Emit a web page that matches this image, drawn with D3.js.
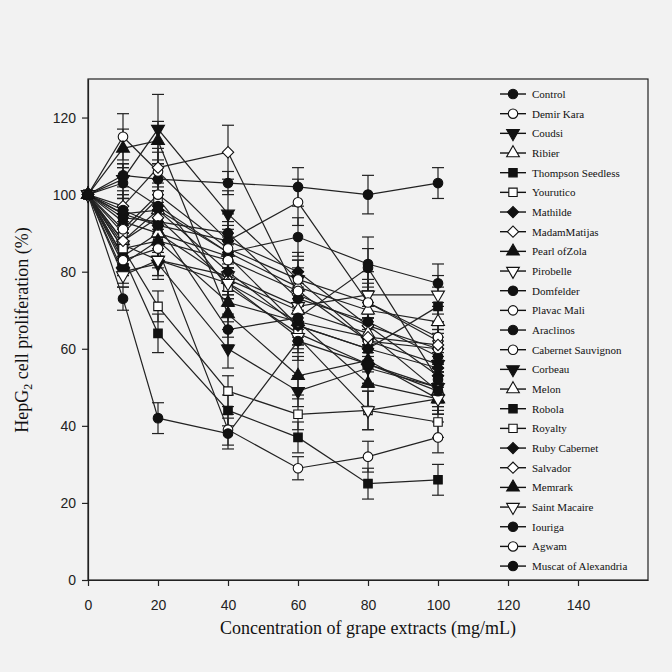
<!DOCTYPE html>
<html>
<head>
<meta charset="utf-8">
<script src="https://cdn.jsdelivr.net/npm/d3@7/dist/d3.min.js"></script>
<style>
  body { margin: 0; background: #f2f2f2; }
  svg { display: block; }
  .tick text { font-family: "Liberation Sans Narrow", "Liberation Sans", Arial, sans-serif; font-size: 14px; fill: #222; }
</style>
</head>
<body>
<div id="chart"></div>
<script>
// concentration (mg/mL)
const concentrations = [0, 10, 20, 40, 60, 80, 100];

const cultivars = [
  "Control", "Demir Kara", "Coudsi", "Ribier", "Thompson Seedless", "Yourutico",
  "Mathilde", "MadamMatijas", "Pearl ofZola", "Pirobelle", "Domfelder", "Plavac Mali",
  "Araclinos", "Cabernet Sauvignon", "Corbeau", "Melon", "Robola", "Royalty",
  "Ruby Cabernet", "Salvador", "Memrark", "Saint Macaire", "Iouriga", "Agwam",
  "Muscat of Alexandria"
];

// proliferation (%), one row per cultivar
const proliferation = [
  [100, 105, 104, 103, 102, 100, 103],
  [100, 115, 106, 88, 98, 72, 62],
  [100, 104, 117, 95, 78, 62, 56],
  [100, 88, 96, 85, 76, 70, 67],
  [100, 93, 90, 84, 66, 60, 71],
  [100, 90, 99, 76, 64, 56, 50],
  [100, 95, 92, 88, 80, 66, 53],
  [100, 97, 107, 111, 74, 66, 60],
  [100, 112, 114, 69, 53, 57, 47],
  [100, 87, 83, 79, 71, 74, 74],
  [100, 103, 97, 85, 89, 82, 77],
  [100, 91, 100, 86, 78, 72, 63],
  [100, 94, 93, 90, 73, 67, 58],
  [100, 86, 88, 83, 75, 62, 60],
  [100, 80, 82, 60, 49, 55, 50],
  [100, 84, 90, 78, 70, 64, 49],
  [100, 84, 64, 44, 37, 25, 26],
  [100, 86, 71, 49, 43, 44, 41],
  [100, 95, 96, 80, 66, 60, 55],
  [100, 88, 94, 77, 67, 63, 61],
  [100, 82, 88, 72, 67, 51, 47],
  [100, 79, 83, 77, 63, 44, 47],
  [100, 96, 92, 65, 68, 81, 52],
  [100, 83, 86, 39, 29, 32, 37],
  [100, 73, 42, 38, 62, 56, 49]
];

// standard deviations
const errors = [
  [0, 3, 4, 3, 5, 5, 4],
  [0, 6, 5, 5, 6, 6, 5],
  [0, 4, 9, 6, 5, 6, 5],
  [0, 4, 4, 5, 5, 5, 4],
  [0, 3, 5, 4, 5, 6, 5],
  [0, 4, 4, 5, 4, 5, 4],
  [0, 4, 5, 4, 5, 5, 5],
  [0, 4, 5, 7, 5, 6, 5],
  [0, 5, 5, 6, 5, 6, 4],
  [0, 4, 4, 5, 5, 6, 5],
  [0, 4, 4, 5, 5, 7, 5],
  [0, 4, 4, 5, 5, 5, 4],
  [0, 3, 4, 5, 4, 5, 4],
  [0, 4, 5, 4, 5, 6, 4],
  [0, 3, 4, 5, 4, 5, 4],
  [0, 4, 4, 4, 5, 5, 5],
  [0, 3, 5, 4, 4, 4, 4],
  [0, 4, 4, 4, 4, 5, 4],
  [0, 4, 4, 5, 5, 5, 5],
  [0, 4, 4, 4, 5, 5, 4],
  [0, 3, 4, 5, 4, 6, 4],
  [0, 3, 4, 4, 4, 5, 4],
  [0, 4, 5, 4, 4, 5, 4],
  [0, 4, 5, 4, 3, 4, 4],
  [0, 3, 4, 4, 5, 5, 4]
];

const xTicks = [0, 20, 40, 60, 80, 100, 120, 140];
const yTicks = [0, 20, 40, 60, 80, 100, 120];

// marker per cultivar: [shape, filled]
const markerCycle = [
  ["circle", true], ["circle", false], ["down", true], ["up", false],
  ["square", true], ["square", false], ["diamond", true], ["diamond", false],
  ["up", true], ["down", false], ["circle", true], ["circle", false]
];
const markers = cultivars.map((c, i) => i < 12 ? markerCycle[i] : markerCycle[(i - 12) % 12]);
markers[24] = ["circle", true];

const W = 672, H = 672;
const margin = { top: 79, right: 24, bottom: 92, left: 88 };
const width = W - margin.left - margin.right,
      height = H - margin.top - margin.bottom;

const svg = d3.select("#chart").append("svg")
  .attr("width", W).attr("height", H)
  .style("background", "#f2f2f2");

const g = svg.append("g").attr("transform", `translate(${margin.left},${margin.top})`);

const x = d3.scaleLinear().domain([0, 160]).range([0, width]);
const y = d3.scaleLinear().domain([0, 130]).range([height, 0]);

// frame
g.append("rect")
  .attr("width", width).attr("height", height)
  .attr("fill", "none").attr("stroke", "#222").attr("stroke-width", 1.2);

const xAxis = g.append("g").attr("transform", `translate(0,${height})`)
  .call(d3.axisBottom(x).tickValues(xTicks).tickSize(6).tickPadding(14).tickSizeOuter(0));
const yAxis = g.append("g")
  .call(d3.axisLeft(y).tickValues(yTicks).tickSize(6).tickPadding(6).tickSizeOuter(0));
[xAxis, yAxis].forEach(a => {
  a.select(".domain").attr("stroke", "#222").attr("stroke-width", 1.2);
  a.selectAll(".tick line").attr("stroke", "#222").attr("stroke-width", 1.2);
});

// diamonds are squares turned 45deg (wider than d3's diamond)
function symbolPath(m, size) {
  const type = { circle: d3.symbolCircle, square: d3.symbolSquare, diamond: d3.symbolSquare,
                 up: d3.symbolTriangle, down: d3.symbolTriangle }[m[0]];
  return d3.symbol().type(type).size(m[0] === "diamond" ? size * 0.9 : size)();
}
function markerTransform(m, px, py) {
  const rot = m[0] === "down" ? " rotate(180)" : m[0] === "diamond" ? " rotate(45)" : "";
  return `translate(${px},${py})` + rot;
}

const series = cultivars.map((name, i) => ({
  name, marker: markers[i],
  points: concentrations.map((c, j) => ({ c, v: proliferation[i][j], e: errors[i][j] }))
}));

const line = d3.line().x(d => x(d.c)).y(d => y(d.v));

// lines
g.append("g").selectAll("path").data(series).join("path")
  .attr("d", d => line(d.points))
  .attr("fill", "none").attr("stroke", "#222").attr("stroke-width", 1.2);

// error bars
const eb = g.append("g").attr("stroke", "#222").attr("stroke-width", 1.2);
series.forEach(s => {
  s.points.filter(p => p.e > 0).forEach(p => {
    const px = x(p.c);
    eb.append("line").attr("x1", px).attr("x2", px).attr("y1", y(p.v - p.e)).attr("y2", y(p.v + p.e));
    [p.v - p.e, p.v + p.e].forEach(v => {
      eb.append("line").attr("x1", px - 6).attr("x2", px + 6).attr("y1", y(v)).attr("y2", y(v));
    });
  });
});

// markers
series.forEach(s => {
  g.append("g").selectAll("path").data(s.points).join("path")
    .attr("d", symbolPath(s.marker, 72))
    .attr("transform", p => markerTransform(s.marker, x(p.c), y(p.v)))
    .attr("fill", s.marker[1] ? "#111" : "#fff")
    .attr("stroke", "#111").attr("stroke-width", 1.1);
});

// legend
const legend = g.append("g").attr("transform", `translate(${500 - margin.left},${94 - margin.top})`);
const rowH = 19.67;
const item = legend.selectAll("g").data(series).join("g")
  .attr("transform", (d, i) => `translate(0,${i * rowH})`);
item.append("line").attr("x1", 0).attr("x2", 26).attr("stroke", "#111").attr("stroke-width", 1.4);
item.append("path")
  .attr("d", d => symbolPath(d.marker, 70))
  .attr("transform", d => markerTransform(d.marker, 13, 0))
  .attr("fill", d => d.marker[1] ? "#111" : "#fff")
  .attr("stroke", "#111").attr("stroke-width", 1.1);
item.append("text").attr("x", 32).attr("y", 4)
  .attr("font-family", "'Liberation Serif', 'Times New Roman', serif")
  .attr("font-size", 11).attr("fill", "#111")
  .text(d => d.name);

// axis titles
svg.append("text")
  .attr("x", margin.left + x(80)).attr("y", 634)
  .attr("text-anchor", "middle")
  .attr("font-family", "'Liberation Serif', 'Times New Roman', serif")
  .attr("font-size", 18).attr("fill", "#111")
  .text("Concentration of grape extracts (mg/mL)");

const yt = svg.append("text")
  .attr("transform", `translate(28,330) rotate(-90)`)
  .attr("text-anchor", "middle")
  .attr("font-family", "'Liberation Serif', 'Times New Roman', serif")
  .attr("font-size", 18).attr("fill", "#111");
yt.append("tspan").text("HepG");
yt.append("tspan").attr("font-size", 12).attr("dy", 4).text("2");
yt.append("tspan").attr("dy", -4).text(" cell proliferation (%)");
</script>
</body>
</html>
